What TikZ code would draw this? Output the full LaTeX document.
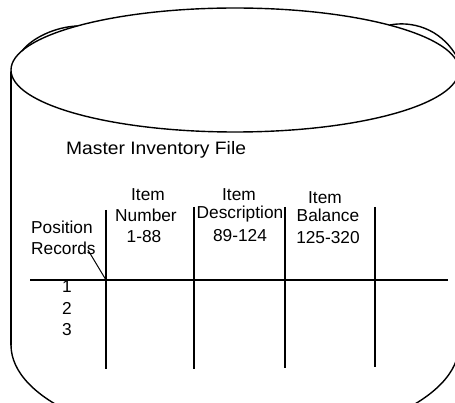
\documentclass[tikz,border=0pt]{standalone}
\usepackage{fontspec}
\setmainfont{Liberation Sans}
\begin{document}
\begin{tikzpicture}[x=1pt,y=-1pt,
  outline/.style={line width=1.4pt, line cap=round},
  gridline/.style={line width=1.2pt},
  lbl/.style={inner sep=0pt, anchor=base, font=\fontsize{17.3}{20}\selectfont},
  lblw/.style={lbl, anchor=base west}]
\useasboundingbox (0,0) rectangle (455,403);
\clip (0,0) rectangle (455,403);
% cylinder top
\draw[outline] (235,70) ellipse [x radius=224, y radius=62];
\draw[outline] (22,51) .. controls (32,38) and (55,27) .. (77,26);
\draw[outline] (390,25) .. controls (410,21) and (440,27) .. (457,57);
% cylinder side and bottom
\coordinate (lt) at (11,72);
\coordinate (lb) at (11,345);
\draw[outline] (lt) -- (lb);
\begin{scope}
\clip (0,345) rectangle (455,403);
\draw[outline] (235,345) ellipse [x radius=224, y radius=99];
\end{scope}
% title
\node[lbl, anchor=base west, font=\fontsize{18}{20}\selectfont] (title) at (66,155) {\scalebox{1.07}[1]{Master Inventory File}};
% table lines
\coordinate (h1) at (30,280);
\coordinate (h2) at (448,280);
\draw[gridline] (h1) -- (h2);
\coordinate (v1t) at (106,210); \coordinate (v1b) at (106,369);
\coordinate (v2t) at (194,207); \coordinate (v2b) at (194,369);
\coordinate (v3t) at (285,207); \coordinate (v3b) at (285,368);
\coordinate (v4t) at (375,207); \coordinate (v4b) at (375,367);
\draw[gridline] (v1t) -- (v1b);
\draw[gridline] (v2t) -- (v2b);
\draw[gridline] (v3t) -- (v3b);
\draw[gridline] (v4t) -- (v4b);
% headers
\node[lblw] (pos) at (31,234) {Position};
\node[lblw] (rec) at (31,255) {Records};
\coordinate (diagtop) at (88,250);
\coordinate (cross) at (106,280);
\draw[gridline, line width=1pt] (cross) -- (diagtop);
\node[lbl] (i1) at (148,201) {Item};
\node[lbl] (num) at (146,222) {Number};
\node[lbl] (r1) at (144,243) {1-88};
\begin{scope}
\clip (195,150) rectangle (283.5,260);
\node[lbl] (desc) at (240,219) {Description};
\end{scope}
\node[lbl] (i2) at (239,201) {Item};
\node[lbl] (r2) at (240,242) {89-124};
\node[lbl] (i3) at (325,204) {Item};
\node[lbl] (bal) at (328,222) {Balance};
\node[lbl] (r3) at (328,244) {125-320};
% rows
\node[lbl] (n1) at (67,293) {1};
\node[lbl] (n2) at (67,314) {2};
\node[lbl] (n3) at (67,335) {3};
\end{tikzpicture}
\end{document}
